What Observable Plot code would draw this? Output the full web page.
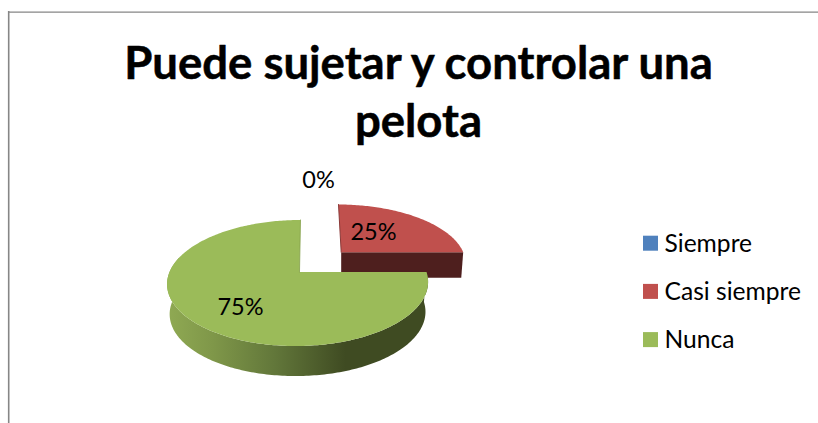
<!DOCTYPE html>
<html><head><meta charset="utf-8">
<script src="https://cdn.jsdelivr.net/npm/d3@7"></script>
<script src="https://cdn.jsdelivr.net/npm/@observablehq/plot@0.6"></script>
<style>html,body{margin:0;padding:0;background:#fff}svg{display:block}</style>
</head><body><div id="chart"></div>
<script>
const categories = ["Siempre", "Casi siempre", "Nunca"];
const shares = [0, 25, 75];
const colors = ["#4f81bd", "#c0504d", "#9bbb59"];
const titleLines = ["Puede sujetar y controlar una", "pelota"];

const W = 818, H = 423;
// perspective placement of each exploded slice
const placement = {
  "Siempre":      {ax: 318, ay: 230, cx: 318, R: 122, S: 56, p: .1746, t: 0, depth: 25, shrink: .98},
  "Casi siempre": {ax: 340.7, ay: 251.7, cx: 340.7, R: 122, S: 56, p: .1746, t: 2.7, depth: 25.5, shrink: .984},
  "Nunca":        {ax: 299, ay: 271.5, cx: 297.5, R: 128.5, S: 61.1, p: .1746, t: -2.5, depth: 30, shrink: .98}
};
const rad = d => d * Math.PI / 180;
function rimPoint(pl, deg, lower) {
  const u = Math.sin(rad(deg)), v = -Math.cos(rad(deg)), w = 1 - pl.p * v;
  const k = lower ? pl.shrink : 1;
  return {x: pl.cx + pl.R * k * u / w + pl.t * v, y: pl.ay + pl.S * v / w + (lower ? pl.depth : 0)};
}
function arcPoints(pl, a0, a1, lower) {
  const n = Math.max(1, Math.round(Math.abs(a1 - a0)));
  return d3.range(n + 1).map(i => rimPoint(pl, a0 + (a1 - a0) * i / n, lower));
}
// slice angles come from the shares
let acc = 0;
const slices = categories.map((name, i) => {
  const a0 = acc / 100 * 360; acc += shares[i];
  return {name, color: colors[i], share: shares[i], a0, a1: acc / 100 * 360, pl: placement[name]};
});

const topFace = s => [{x: s.pl.ax, y: s.pl.ay}, ...arcPoints(s.pl, s.a0, s.a1, false)].map(d => ({...d, name: s.name}));
const red = slices[1], green = slices[2];
const redFront = [
  {x: red.pl.ax, y: red.pl.ay},
  rimPoint(red.pl, red.a1, false),
  rimPoint(red.pl, red.a1, true),
  {x: red.pl.ax, y: red.pl.ay + red.pl.depth}
];
const redEdge = [rimPoint(red.pl, red.a0, false), {x: red.pl.ax, y: red.pl.ay}];
const greenEnd = 284;
const greenWall = [...arcPoints(green.pl, green.a0, greenEnd, false), ...arcPoints(green.pl, greenEnd, green.a0, true)];
const greenEdge = [rimPoint(green.pl, green.a1, false), {x: green.pl.ax, y: green.pl.ay}];

const labelPos = {"Siempre": [318, 180], "Casi siempre": [373, 232], "Nunca": [240, 307]};
const labels = slices.map(s => ({x: labelPos[s.name][0], y: labelPos[s.name][1], text: s.share + "%"}));
const legend = slices.map((s, i) => ({name: s.name, color: s.color, x1: 643, x2: 658, y1: 235.7 + i * 48.2, y2: 250.7 + i * 48.2}));

const defs = () => {
  const d = d3.create("svg:defs");
  const g = d.append("linearGradient").attr("id", "wallGrad").attr("gradientUnits", "userSpaceOnUse")
    .attr("x1", 168).attr("x2", 345).attr("y1", 0).attr("y2", 0);
  [[0, "#8fa953"], [.25, "#7f9749"], [.6, "#62773a"], [1, "#3f4b22"]].forEach(([o, c]) =>
    g.append("stop").attr("offset", o).attr("stop-color", c));
  return d.node();
};

const font = "Lato, 'Open Sans', sans-serif";
const chart = Plot.plot({
  width: W, height: H, margin: 0,
  x: {domain: [0, W], range: [0, W], axis: null},
  y: {domain: [0, H], range: [0, H], axis: null},
  style: {background: "#fff"},
  marks: [
    defs,
    Plot.ruleY([11.6], {x1: 8, x2: W, stroke: "#868686", strokeWidth: 1.3}),
    Plot.ruleX([8.2], {y1: 11, y2: H, stroke: "#868686", strokeWidth: 1.6}),
    Plot.line(redFront, {x: "x", y: "y", fill: "#4e1f1e", stroke: "none", curve: "linear-closed"}),
    Plot.line(topFace(red), {x: "x", y: "y", fill: red.color, stroke: "none", curve: "linear-closed"}),
    Plot.line(redEdge, {x: "x", y: "y", stroke: "#8a3a38", strokeWidth: 1}),
    Plot.line(greenWall, {x: "x", y: "y", fill: "url(#wallGrad)", stroke: "none", curve: "linear-closed"}),
    Plot.line(topFace(green), {x: "x", y: "y", fill: green.color, stroke: "none", curve: "linear-closed"}),
    Plot.line(greenEdge, {x: "x", y: "y", stroke: "#84a04a", strokeWidth: .8}),
    Plot.text(titleLines, {x: 418, y: (d, i) => 63.5 + i * 58.5, text: d => d, fontSize: 45.5, fontWeight: 700, fontFamily: font, fill: "#000", stroke: "#000", strokeWidth: .5, textAnchor: "middle"}),
    Plot.text(labels, {x: "x", y: "y", text: "text", fontSize: 23.5, fontFamily: font, fill: "#000"}),
    Plot.rect(legend, {x1: "x1", x2: "x2", y1: "y1", y2: "y2", fill: "color", inset: 0}),
    Plot.text(legend, {x: 664, y: d => d.y1 + 8, text: "name", fontSize: 24.6, fontFamily: font, fill: "#000", textAnchor: "start"})
  ]
});
document.getElementById("chart").append(chart);
</script></body></html>
